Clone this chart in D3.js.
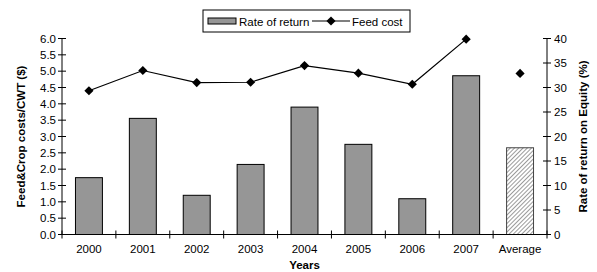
<!DOCTYPE html>
<html>
<head>
<meta charset="utf-8">
<script src="https://cdn.jsdelivr.net/npm/d3@7"></script>
<style>
  body { margin: 0; background: #fff; }
  svg { display: block; font-family: "Liberation Sans", Arial, sans-serif; }
</style>
</head>
<body>
<svg id="chart" width="597" height="272"></svg>
<script>
// 数据
const categories = ['2000', '2001', '2002', '2003', '2004', '2005', '2006', '2007', 'Average'];
const rateOfReturn = [11.6, 23.7, 8.0, 14.3, 26.0, 18.4, 7.3, 32.4, 17.7];
const feedCost = [4.40, 5.02, 4.65, 4.66, 5.17, 4.94, 4.60, 5.98, 4.93];
const leftTicks = [0, 0.5, 1, 1.5, 2, 2.5, 3, 3.5, 4, 4.5, 5, 5.5, 6];
const rightTicks = [0, 5, 10, 15, 20, 25, 30, 35, 40];

const svg = d3.select('#chart');
const margin = { left: 62, right: 50, top: 38.5, bottom: 37.5 };
const width = 597, height = 272;

const x = d3.scaleBand()
    .domain(categories)
    .range([margin.left, width - margin.right]);
const yLeft = d3.scaleLinear().domain([0, 6]).range([height - margin.bottom, margin.top]);
const yRight = d3.scaleLinear().domain([0, 40]).range([height - margin.bottom, margin.top]);

// 斜线填充
const defs = svg.append('defs');
const pattern = defs.append('pattern')
    .attr('id', 'hatch')
    .attr('patternUnits', 'userSpaceOnUse')
    .attr('width', 3).attr('height', 3)
    .attr('patternTransform', 'rotate(45)');
pattern.append('rect').attr('width', 3).attr('height', 3).attr('fill', '#fff');
pattern.append('line')
    .attr('x1', 0).attr('y1', 0).attr('x2', 0).attr('y2', 3)
    .attr('stroke', '#7a7a7a').attr('stroke-width', 1.5);

// 柱
const barW = x.bandwidth() * 0.5;
svg.append('g').selectAll('rect')
    .data(categories)
    .join('rect')
    .attr('x', (d) => x(d) + (x.bandwidth() - barW) / 2)
    .attr('y', (d, i) => yRight(rateOfReturn[i]))
    .attr('width', barW)
    .attr('height', (d, i) => yRight(0) - yRight(rateOfReturn[i]))
    .attr('fill', (d) => d === 'Average' ? 'url(#hatch)' : '#969696')
    .attr('stroke', (d) => d === 'Average' ? '#444' : '#000')
    .attr('stroke-width', 1);

// 折线（不含平均值）
const linePts = categories.slice(0, 8).map((c, i) => [x(c) + x.bandwidth() / 2, yLeft(feedCost[i])]);
svg.append('path')
    .attr('d', d3.line()(linePts))
    .attr('fill', 'none')
    .attr('stroke', '#000')
    .attr('stroke-width', 1.2);

const diamond = d3.symbol().type(d3.symbolSquare).size(42);
svg.append('g').selectAll('path')
    .data(categories)
    .join('path')
    .attr('d', diamond)
    .attr('transform', (d, i) => `translate(${x(d) + x.bandwidth() / 2},${yLeft(feedCost[i])}) rotate(45)`)
    .attr('fill', '#000');

// 坐标轴
const baseY = yLeft(0);
const axes = svg.append('g').attr('stroke', '#000').attr('stroke-width', 1);
axes.append('line').attr('x1', margin.left).attr('x2', width - margin.right).attr('y1', baseY).attr('y2', baseY);
axes.append('line').attr('x1', margin.left).attr('x2', margin.left).attr('y1', yLeft(6)).attr('y2', baseY);
axes.append('line').attr('x1', width - margin.right).attr('x2', width - margin.right).attr('y1', yRight(40)).attr('y2', baseY);

// x 轴刻度（类别边界）
const bounds = categories.map((c) => x(c)).concat([x(categories[categories.length - 1]) + x.bandwidth()]);
axes.selectAll('.xt').data(bounds).join('line')
    .attr('x1', (d) => d).attr('x2', (d) => d)
    .attr('y1', baseY - 4).attr('y2', baseY + 4);
axes.selectAll('.yl').data(leftTicks).join('line')
    .attr('x1', margin.left - 4).attr('x2', margin.left + 4)
    .attr('y1', (d) => yLeft(d)).attr('y2', (d) => yLeft(d));
axes.selectAll('.yr').data(rightTicks).join('line')
    .attr('x1', width - margin.right - 4).attr('x2', width - margin.right + 4)
    .attr('y1', (d) => yRight(d)).attr('y2', (d) => yRight(d));

const fs = 11.5;
svg.append('g').selectAll('text')
    .data(categories).join('text')
    .attr('x', (d) => x(d) + x.bandwidth() / 2)
    .attr('y', baseY + 18)
    .attr('text-anchor', 'middle')
    .attr('font-size', fs)
    .text((d) => d);

svg.append('g').selectAll('text')
    .data(leftTicks).join('text')
    .attr('x', margin.left - 6)
    .attr('y', (d) => yLeft(d) + 4)
    .attr('text-anchor', 'end')
    .attr('font-size', fs)
    .text((d) => d.toFixed(1));

svg.append('g').selectAll('text')
    .data(rightTicks).join('text')
    .attr('x', width - margin.right + 7)
    .attr('y', (d) => yRight(d) + 4)
    .attr('text-anchor', 'start')
    .attr('font-size', fs)
    .text((d) => d);

// 轴标题
svg.append('text')
    .attr('x', (margin.left + width - margin.right) / 2)
    .attr('y', 269)
    .attr('text-anchor', 'middle')
    .attr('font-size', 11.5)
    .attr('font-weight', 'bold')
    .text('Years');

svg.append('text')
    .attr('transform', `translate(25,${(yLeft(6) + baseY) / 2}) rotate(-90)`)
    .attr('text-anchor', 'middle')
    .attr('font-size', 11.5)
    .attr('font-weight', 'bold')
    .text('Feed&Crop costs/CWT ($)');

svg.append('text')
    .attr('transform', `translate(587,${(yRight(40) + baseY) / 2}) rotate(-90)`)
    .attr('text-anchor', 'middle')
    .attr('font-size', 11.5)
    .attr('font-weight', 'bold')
    .text('Rate of return on Equity (%)');

// 图例
const legend = svg.append('g').attr('transform', 'translate(203,10)');
legend.append('rect')
    .attr('width', 207).attr('height', 22)
    .attr('fill', '#fff').attr('stroke', '#000').attr('stroke-width', 1);
legend.append('rect')
    .attr('x', 5).attr('y', 8).attr('width', 28).attr('height', 6)
    .attr('fill', '#969696').attr('stroke', '#000');
legend.append('text')
    .attr('x', 36).attr('y', 15.5)
    .attr('font-size', fs)
    .text('Rate of return');
legend.append('line')
    .attr('x1', 109).attr('x2', 147).attr('y1', 11).attr('y2', 11)
    .attr('stroke', '#000').attr('stroke-width', 1.2);
legend.append('path')
    .attr('d', diamond)
    .attr('transform', 'translate(128,11) rotate(45)')
    .attr('fill', '#000');
legend.append('text')
    .attr('x', 149).attr('y', 15.5)
    .attr('font-size', fs)
    .text('Feed cost');
</script>
</body>
</html>
